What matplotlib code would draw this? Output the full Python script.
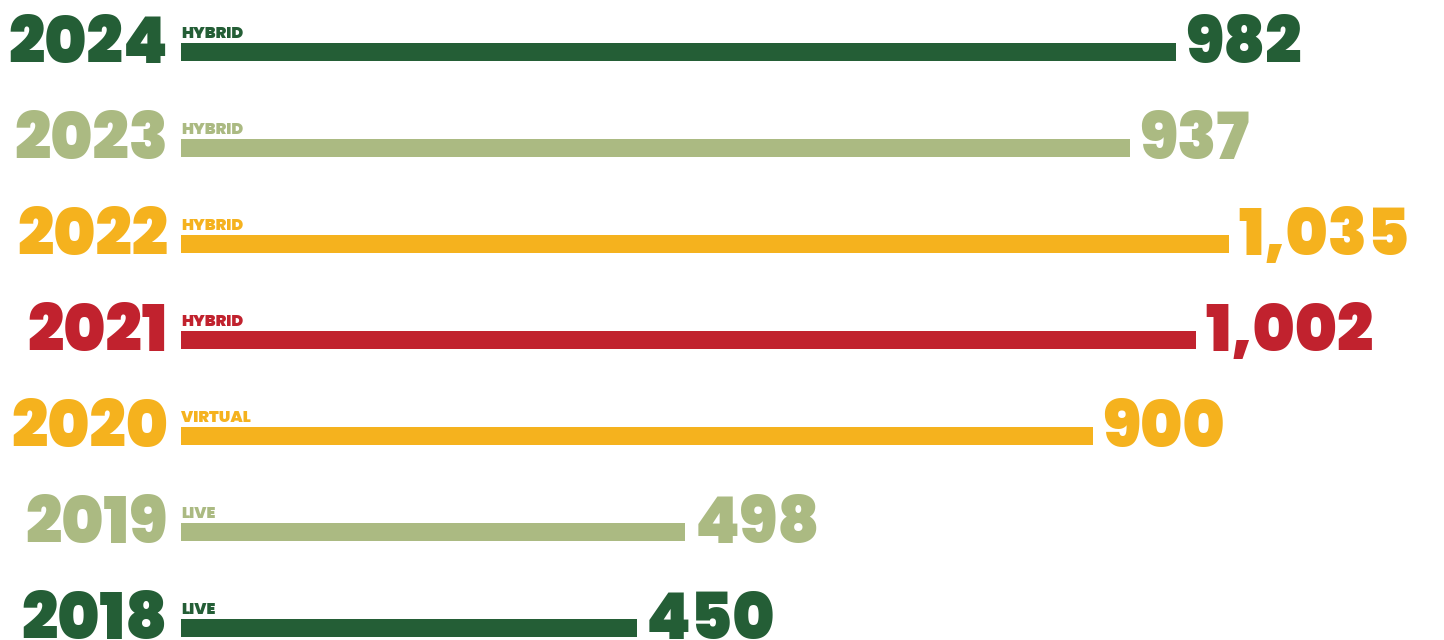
import matplotlib
matplotlib.use("Agg")
import matplotlib.pyplot as plt

years = ["2024", "2023", "2022", "2021", "2020", "2019", "2018"]
formats = ["HYBRID", "HYBRID", "HYBRID", "HYBRID", "VIRTUAL", "LIVE", "LIVE"]
attendees = [982, 937, 1035, 1002, 900, 498, 450]
colors = ["#245E36", "#ABBA82", "#F5B21E", "#C1222E", "#F5B21E", "#ABBA82", "#245E36"]

FONT = "Poppins"
DPI = 72
W, H = 1444, 640
fig = plt.figure(figsize=(W / DPI, H / DPI), dpi=DPI)
fig.patch.set_facecolor("white")

px_per_unit = 1.013
left_px = 181
ax = fig.add_axes([left_px / W, 0, 1 - left_px / W, 1])
ax.set_xlim(0, (W - left_px) / px_per_unit)
spacing = 96.0
first_center = 52.0
ax.set_ylim((H - first_center) / spacing, -first_center / spacing)
ax.axis("off")

pos = list(range(len(years)))
bar_h = 18 / spacing
ax.barh(pos, attendees, height=bar_h, color=colors, left=0)

BIG = 64
for i, (yr, fmt, v, c) in enumerate(zip(years, formats, attendees, colors)):
    base = i + bar_h / 2
    ax.annotate(yr, xy=(0, base), xytext=(-13, -2), textcoords="offset points",
                ha="right", va="baseline", fontsize=BIG, fontweight=900,
                family=FONT, color=c, annotation_clip=False)
    ax.annotate(f"{v:,}", xy=(v, base), xytext=(9, -2), textcoords="offset points",
                ha="left", va="baseline", fontsize=BIG, fontweight=900,
                family=FONT, color=c, annotation_clip=False)
    ax.annotate(fmt, xy=(0, i - bar_h / 2), xytext=(0, 5), textcoords="offset points",
                ha="left", va="baseline", fontsize=16, fontweight=900,
                family=FONT, color=c)

fig.savefig("out.png", dpi=DPI)
